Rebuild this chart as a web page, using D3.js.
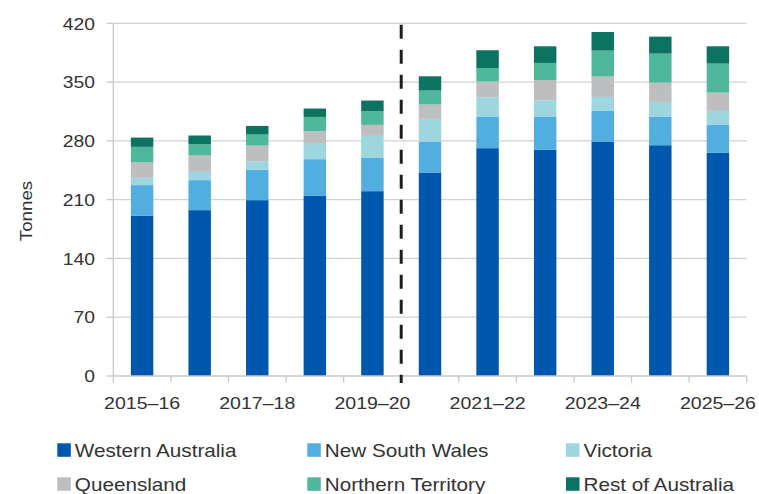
<!DOCTYPE html>
<html>
<head>
<meta charset="utf-8">
<script src="https://cdn.jsdelivr.net/npm/d3@7/dist/d3.min.js"></script>
<style>
  html, body { margin: 0; padding: 0; background: #ffffff; }
  svg { display: block; }
  text { font-family: "Liberation Sans", Arial, sans-serif; fill: #333333; }
</style>
</head>
<body>
<svg id="chart" width="759" height="494"></svg>
<script>
// Financial years on the x axis
const years = ["2015–16", "2016–17", "2017–18", "2018–19", "2019–20", "2020–21",
               "2021–22", "2022–23", "2023–24", "2024–25", "2025–26"];
// Only every second year carries a label
const yearLabels = ["2015–16", "2017–18", "2019–20", "2021–22", "2023–24", "2025–26"];

// Production by state, tonnes (stacked bottom to top)
const westernAustralia = [190.7, 197.5, 209.4, 214.5, 220.1, 242.3, 271.3, 269.3, 279.2, 274.8, 265.7];
const newSouthWales    = [ 36.6,  35.7,  36.1,  43.7,  40.1,  36.9,  37.2,  39.7,  36.9,  34.2,  33.3];
const victoria         = [  8.7,   9.9,  10.3,  18.2,  25.7,  27.0,  23.4,  19.4,  16.2,  17.4,  16.7];
const queensland       = [ 18.2,  19.5,  18.6,  15.1,  13.1,  17.1,  18.7,  24.1,  24.3,  23.0,  21.8];
const northernTerritory= [ 18.7,  13.4,  13.1,  17.0,  16.3,  16.6,  16.2,  20.3,  30.9,  34.5,  34.5];
const restOfAustralia  = [ 11.0,  10.4,  10.3,  10.0,  12.7,  17.0,  21.1,  19.8,  22.2,  20.2,  20.6];

const seriesNames = ["Western Australia", "New South Wales", "Victoria",
                     "Queensland", "Northern Territory", "Rest of Australia"];
const seriesValues = [westernAustralia, newSouthWales, victoria,
                      queensland, northernTerritory, restOfAustralia];
const seriesColors = ["#0058ae", "#52ade0", "#9dd6df", "#bcbec0", "#4fb79b", "#0b735f"];

const yTicks = [0, 70, 140, 210, 280, 350, 420];
// Projections start after this year
const projectionStart = "2019–20";

const svg = d3.select("#chart");
const plotLeft = 113.3, plotRight = 746.7, plotTop = 23.3, plotBottom = 376;
const textStretch = 1.15;

const x = d3.scaleBand().domain(years).range([plotLeft, plotRight])
  .paddingInner(0.61).paddingOuter(0.305);
const y = d3.scaleLinear().domain([0, 420]).range([plotBottom, plotTop]);
const step = x.step();
const bandStart = d => x(d) + x.bandwidth() / 2 - step / 2;

// Helper: horizontally stretched text label
function label(parent, tx, ty, str, opts = {}) {
  const g = parent.append("g")
    .attr("transform", `translate(${tx},${ty})${opts.rotate ? ` rotate(${opts.rotate})` : ""} scale(${opts.sx || textStretch},1)`);
  g.append("text")
    .attr("text-anchor", opts.anchor || "start")
    .attr("font-size", opts.size || 17)
    .text(str);
  return g;
}

// Gridlines
svg.append("g").selectAll("line").data(yTicks.filter(t => t > 0)).join("line")
  .attr("x1", plotLeft).attr("x2", plotRight)
  .attr("y1", d => y(d)).attr("y2", d => y(d))
  .attr("stroke", "#d2d2d2").attr("stroke-width", 1.3);

// Y axis line and ticks
svg.append("line").attr("x1", plotLeft).attr("x2", plotLeft).attr("y1", y(420)).attr("y2", plotBottom)
  .attr("stroke", "#c8c8c8").attr("stroke-width", 1.3);
svg.append("g").selectAll("line").data(yTicks).join("line")
  .attr("x1", plotLeft - 6.6).attr("x2", plotLeft)
  .attr("y1", d => y(d)).attr("y2", d => y(d))
  .attr("stroke", "#c8c8c8").attr("stroke-width", 1.3);
const yLab = svg.append("g");
yTicks.forEach(t => label(yLab, 95, y(t) + 6.2, String(t), { anchor: "end", size: 16.8 }));

// Stacked bars
const table = years.map((yr, i) => {
  const row = { year: yr };
  seriesNames.forEach((s, k) => row[s] = seriesValues[k][i]);
  return row;
});
const stacked = d3.stack().keys(seriesNames)(table);
svg.append("g").selectAll("g").data(stacked).join("g")
  .attr("fill", (d, i) => seriesColors[i])
  .selectAll("rect").data(d => d).join("rect")
  .attr("x", d => x(d.data.year))
  .attr("width", x.bandwidth())
  .attr("y", d => y(d[1]))
  .attr("height", d => y(d[0]) - y(d[1]));

// X axis line and tick marks at category boundaries
svg.append("line").attr("x1", plotLeft).attr("x2", plotRight).attr("y1", plotBottom).attr("y2", plotBottom)
  .attr("stroke", "#c8c8c8").attr("stroke-width", 1.3);
const bounds = years.map(bandStart).concat([bandStart(years[years.length - 1]) + step]);
svg.append("g").selectAll("line").data(bounds).join("line")
  .attr("x1", d => d).attr("x2", d => d)
  .attr("y1", plotBottom).attr("y2", plotBottom + 6.5)
  .attr("stroke", "#c8c8c8").attr("stroke-width", 1.3);
const xLab = svg.append("g");
yearLabels.forEach(yr => label(xLab, x(yr) + x.bandwidth() / 2, 408.5, yr, { anchor: "middle", size: 17 }));

// Dashed divider between actuals and projections
const divX = bandStart(projectionStart) + step;
svg.append("line").attr("x1", divX).attr("x2", divX)
  .attr("y1", y(420) + 1.5).attr("y2", 383)
  .attr("stroke", "#1e1e1e").attr("stroke-width", 3)
  .attr("stroke-dasharray", "14,11");

// Y axis title
label(svg, 32, 211, "Tonnes", { anchor: "middle", size: 17, rotate: -90, sx: 1.1 });

// Legend
const legendCols = [57.3, 307.3, 566];
const legendRows = [443.3, 477.3];
const legend = svg.append("g");
seriesNames.forEach((name, i) => {
  const lx = legendCols[i % 3], ly = legendRows[Math.floor(i / 3)];
  legend.append("rect").attr("x", lx).attr("y", ly).attr("width", 13.5).attr("height", 13.5)
    .attr("fill", seriesColors[i]);
  label(legend, lx + 17.5, ly + 13.4, name, { size: 18 });
});
</script>
</body>
</html>
